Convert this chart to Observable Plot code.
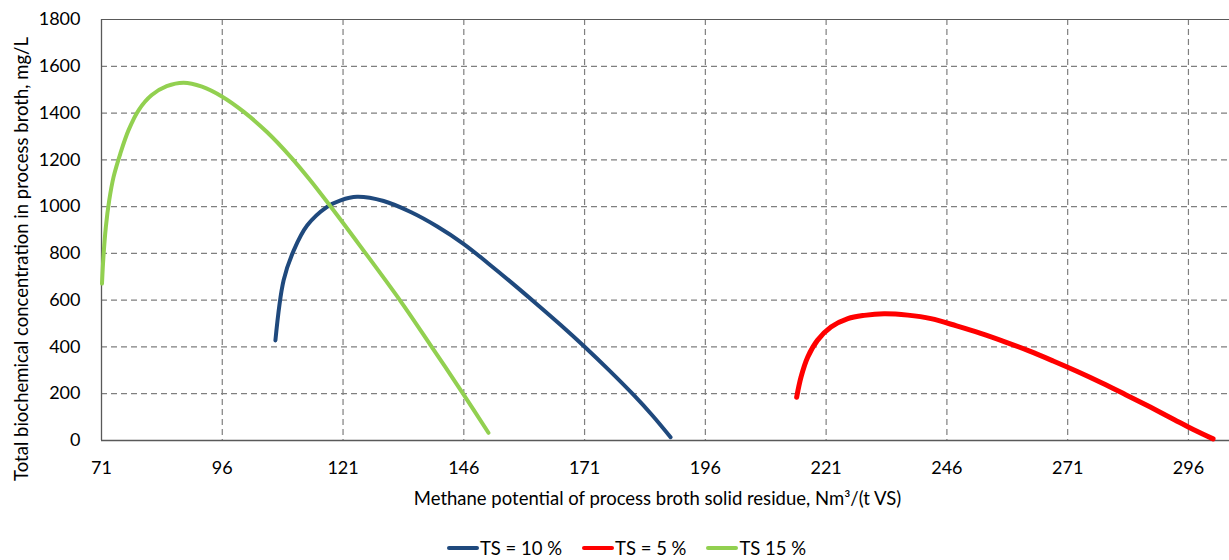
<!DOCTYPE html>
<html>
<head>
<meta charset="utf-8">
<script src="https://cdn.jsdelivr.net/npm/d3@7"></script>
<script src="https://cdn.jsdelivr.net/npm/@observablehq/plot@0.6"></script>
<style>
  html, body { margin: 0; padding: 0; background: #fff; }
  body { width: 1229px; height: 560px; overflow: hidden; font-family: Lato, "Liberation Sans", sans-serif; }
  #chart svg { display: block; overflow: visible; }
  #legend { position: absolute; left: 0; top: 537px; width: 1229px; display: flex; justify-content: center; align-items: center; gap: 20px; font-size: 18.5px; color: #000; padding-left: 24px; box-sizing: border-box; }
  .item { display: flex; align-items: center; }
  .sw { display: inline-block; width: 32px; height: 4px; border-radius: 2px; margin-right: 1px; }
</style>
</head>
<body>
<div id="chart"></div>
<div id="legend"></div>
<script>
// Series names and colours
const seriesNames = ["TS = 10 %", "TS = 5 %", "TS 15 %"];
const seriesColors = ["#1F497D", "#FF0000", "#92D050"];

// TS = 10 %
const ts10X = [107.0, 108.7, 110.8, 113.6, 117.7, 120.5, 123.9, 129.4, 135.0, 140.5, 146.0, 151.0, 156.0, 161.0, 166.0, 171.0, 176.0, 181.0, 185.0, 188.8];
const ts10Y = [428, 685, 813, 920, 999, 1027, 1042, 1024, 977, 915, 840, 758, 673, 585, 495, 401, 302, 198, 108, 14];

// TS = 5 %
const ts5X = [214.9, 215.8, 217.2, 219.2, 222.0, 225.5, 228.9, 233.0, 237.9, 242.7, 248.0, 253.0, 258.0, 263.0, 268.0, 273.0, 278.0, 283.0, 288.0, 293.0, 297.0, 301.1];
const ts5Y = [185, 271, 357, 428, 485, 521, 535, 542, 536, 521, 490, 458, 422, 383, 340, 295, 247, 196, 144, 90, 47, 7];

// TS 15 %
const ts15X = [71.1, 71.4, 71.9, 72.6, 73.5, 74.9, 76.6, 78.7, 81.4, 84.5, 88.0, 91.8, 96.0, 100.4, 105.3, 110.1, 114.0, 118.0, 124.6, 132.9, 139.1, 146.0, 151.1];
const ts15Y = [671, 785, 913, 1027, 1127, 1227, 1327, 1413, 1477, 1515, 1530, 1513, 1470, 1406, 1318, 1214, 1118, 1012, 830, 596, 408, 195, 33];

// Axis ticks
const xTicks = [71, 96, 121, 146, 171, 196, 221, 246, 271, 296];
const yTicks = [0, 200, 400, 600, 800, 1000, 1200, 1400, 1600, 1800];

const xLabel = "Methane potential of process broth solid residue, Nm³/(t VS)";
const yLabel = "Total biochemical concentration in process broth, mg/L";

const toRows = (xs, ys, s) => xs.map((x, i) => ({x, y: ys[i], s}));
const rows10 = toRows(ts10X, ts10Y, seriesNames[0]);
const rows5 = toRows(ts5X, ts5Y, seriesNames[1]);
const rows15 = toRows(ts15X, ts15Y, seriesNames[2]);

const gridX = xTicks.slice(1);
const gridY = yTicks.slice(1, -1);
const fmt = d => String(d);

const lineOpts = {x: "x", y: "y", stroke: "s", curve: "catmull-rom", strokeLinecap: "round"};

const chart = Plot.plot({
  width: 1229,
  height: 515,
  marginLeft: 101,
  marginRight: 0,
  marginTop: 19,
  marginBottom: 75,
  style: {fontFamily: "Lato, 'Liberation Sans', sans-serif", fontSize: "18px", color: "#000", background: "#fff"},
  x: {domain: [71, 304.5]},
  y: {domain: [0, 1800]},
  color: {domain: seriesNames, range: seriesColors},
  marks: [
    Plot.ruleX(gridX, {stroke: "#7f7f7f", strokeWidth: 1.2, strokeDasharray: "6,4"}),
    Plot.ruleY(gridY, {stroke: "#7f7f7f", strokeWidth: 1.2, strokeDasharray: "6,4"}),
    Plot.ruleY([1800], {stroke: "#595959", strokeWidth: 1}),
    Plot.ruleY([0], {stroke: "#595959", strokeWidth: 1.3}),
    Plot.ruleX([71], {stroke: "#595959", strokeWidth: 1.3}),
    Plot.axisX({ticks: xTicks, tickFormat: fmt, tickSize: 0, tickPadding: 21, label: null, fontSize: 18}),
    Plot.axisY({ticks: yTicks, tickFormat: fmt, tickSize: 0, tickPadding: 21, label: null, fontSize: 18}),
    Plot.line(rows10, {...lineOpts, strokeWidth: 4}),
    Plot.line(rows5, {...lineOpts, strokeWidth: 5}),
    Plot.line(rows15, {...lineOpts, strokeWidth: 4}),
    Plot.text([xLabel], {frameAnchor: "bottom", textAnchor: "middle", dx: -8, dy: 64, text: d => d, fontSize: 18.5}),
    Plot.text([yLabel], {frameAnchor: "left", textAnchor: "middle", rotate: -90, dx: -79, dy: 29, text: d => d, fontSize: 18.5})
  ]
});
document.getElementById("chart").appendChild(chart);

const legend = document.getElementById("legend");
seriesNames.forEach((n, i) => {
  const it = document.createElement("div");
  it.className = "item";
  const sw = document.createElement("span");
  sw.className = "sw";
  sw.style.background = seriesColors[i];
  const t = document.createElement("span");
  t.textContent = n;
  it.appendChild(sw);
  it.appendChild(t);
  legend.appendChild(it);
});
</script>
</body>
</html>
